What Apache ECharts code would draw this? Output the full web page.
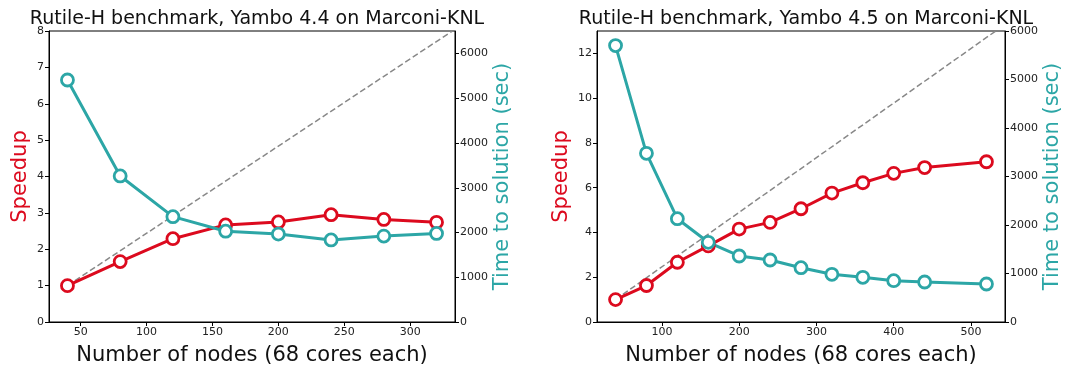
<!DOCTYPE html>
<html>
<head>
<meta charset="utf-8">
<script src="https://cdn.jsdelivr.net/npm/echarts@6/dist/echarts.min.js"></script>
<style>
html,body{margin:0;padding:0;background:#fff;}
#c{width:1076px;height:368px;}
</style>
</head>
<body>
<div id="c"></div>
<script>
// ---- Data: left panel (Yambo 4.4) ----
const nodes44 = [40, 80, 120, 160, 200, 240, 280, 320];
const speedup44 = [1.0, 1.66, 2.29, 2.67, 2.75, 2.95, 2.82, 2.74];
const time44 = [5410, 3265, 2355, 2030, 1965, 1835, 1920, 1980];
const ideal44 = [[40, 1], [332, 8]];
const xTicks44 = [50, 100, 150, 200, 250, 300];
const yTicksL44 = [0, 1, 2, 3, 4, 5, 6, 7, 8];
const yTicksR44 = [0, 1000, 2000, 3000, 4000, 5000, 6000];

// ---- Data: right panel (Yambo 4.5) ----
const nodes45 = [40, 80, 120, 160, 200, 240, 280, 320, 360, 400, 440, 520];
const speedup45 = [1.0, 1.63, 2.67, 3.40, 4.15, 4.45, 5.06, 5.76, 6.22, 6.64, 6.90, 7.16];
const time45 = [5700, 3478, 2130, 1643, 1361, 1278, 1120, 983, 921, 852, 825, 784];
const ideal45 = [[40, 1], [532, 13]];
const xTicks45 = [100, 200, 300, 400, 500];
const yTicksL45 = [0, 2, 4, 6, 8, 10, 12];
const yTicksR45 = [0, 1000, 2000, 3000, 4000, 5000, 6000];

const titles = ['Rutile-H benchmark, Yambo 4.4 on Marconi-KNL', 'Rutile-H benchmark, Yambo 4.5 on Marconi-KNL'];
const xName = 'Number of nodes (68 cores each)';
const yNameL = 'Speedup';
const yNameR = 'Time to solution (sec)';

const RED = '#dc0a1e';
const TEAL = '#2ca6a6';
const FONT = 'DejaVu Sans';
const fmt = v => String(v);

function xAxis(grid, min, max, ticks) {
  return {
    type: 'value', gridIndex: grid, min: min, max: max,
    axisLine: {show: true, lineStyle: {color: '#000', width: 1}},
    axisTick: {show: true, length: 4, lineStyle: {color: '#000'}, customValues: ticks},
    axisLabel: {fontSize: 11, color: '#222', fontFamily: FONT, margin: 5, customValues: ticks, formatter: fmt},
    splitLine: {show: false},
    name: xName, nameLocation: 'middle', nameGap: 23,
    nameTextStyle: {fontSize: 21, color: '#111', fontFamily: FONT}
  };
}
function yAxis(grid, pos, min, max, ticks, name, color, gap) {
  return {
    type: 'value', gridIndex: grid, position: pos, min: min, max: max,
    axisLine: {show: true, lineStyle: {color: '#000', width: 1}},
    axisTick: {show: true, length: 4, lineStyle: {color: '#000'}, customValues: ticks},
    axisLabel: {fontSize: 11, color: '#222', fontFamily: FONT, margin: 5, customValues: ticks, formatter: fmt},
    splitLine: {show: false},
    name: name, nameLocation: 'middle', nameGap: gap,
    nameTextStyle: {fontSize: 21, color: color, fontFamily: FONT}
  };
}
function pts(xs, ys) { return xs.map((x, i) => [x, ys[i]]); }
function lineSeries(xi, yi, data, color) {
  return {
    type: 'line', xAxisIndex: xi, yAxisIndex: yi, data: data,
    symbol: 'circle', symbolSize: 12,
    lineStyle: {color: color, width: 3},
    itemStyle: {color: '#fff', borderColor: color, borderWidth: 2.8},
    emphasis: {disabled: true}, animation: false
  };
}
function idealSeries(xi, yi, data) {
  return {
    type: 'line', xAxisIndex: xi, yAxisIndex: yi, data: data, symbol: 'none',
    lineStyle: {color: '#888888', width: 1.5, type: [6, 3]},
    emphasis: {disabled: true}, animation: false
  };
}

const option = {
  animation: false,
  backgroundColor: '#fff',
  textStyle: {fontFamily: FONT},
  title: [
    {text: titles[0], left: 252, top: 5, textAlign: 'center',
     textStyle: {fontSize: 19, fontWeight: 'normal', color: '#111', fontFamily: FONT}},
    {text: titles[1], left: 801, top: 5, textAlign: 'center',
     textStyle: {fontSize: 19, fontWeight: 'normal', color: '#111', fontFamily: FONT}}
  ],
  grid: [
    {left: 49, right: 621, top: 31, bottom: 46, show: true, borderColor: '#000', borderWidth: 1,
     backgroundColor: 'transparent', outerBoundsMode: 'none', containLabel: false},
    {left: 597, right: 71, top: 31, bottom: 46, show: true, borderColor: '#000', borderWidth: 1,
     backgroundColor: 'transparent', outerBoundsMode: 'none', containLabel: false}
  ],
  xAxis: [
    xAxis(0, 26, 334, xTicks44),
    xAxis(1, 16, 544, xTicks45)
  ],
  yAxis: [
    yAxis(0, 'left', 0, 8, yTicksL44, yNameL, RED, 18),
    yAxis(0, 'right', 0, 6505, yTicksR44, yNameR, TEAL, 36),
    yAxis(1, 'left', 0, 13, yTicksL45, yNameL, RED, 25),
    yAxis(1, 'right', 0, 6000, yTicksR45, yNameR, TEAL, 35)
  ],
  series: [
    idealSeries(0, 0, ideal44),
    lineSeries(0, 0, pts(nodes44, speedup44), RED),
    lineSeries(0, 1, pts(nodes44, time44), TEAL),
    idealSeries(1, 2, ideal45),
    lineSeries(1, 2, pts(nodes45, speedup45), RED),
    lineSeries(1, 3, pts(nodes45, time45), TEAL)
  ]
};
const chart = echarts.init(document.getElementById('c'), null, {renderer: 'canvas'});
chart.setOption(option);
</script>
</body>
</html>
